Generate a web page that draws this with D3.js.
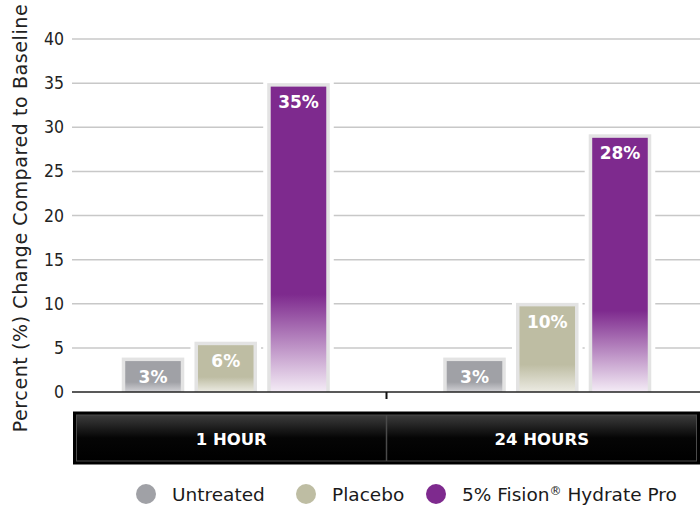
<!DOCTYPE html>
<html>
<head>
<meta charset="utf-8">
<script src="https://cdn.jsdelivr.net/npm/d3@7"></script>
<style>
  body { margin: 0; background: #fff; }
  svg { display: block; font-family: "DejaVu Sans", sans-serif; }
</style>
</head>
<body>
<svg id="chart" width="700" height="506"></svg>
<script>
// chart data
const groups = ["1 HOUR", "24 HOURS"];
const series = ["Untreated", "Placebo", "5% Fision® Hydrate Pro"];
const heights = [
  [3.9, 5.7, 35],
  [3.9, 10.1, 29.2]
];
const labels = [
  ["3%", "6%", "35%"],
  ["3%", "10%", "28%"]
];
const yTicks = [0, 5, 10, 15, 20, 25, 30, 35, 40];

const colors = ["#a0a1a6", "#bebda3", "#7e2a8e"];
const fades = ["#d2d2d6", "#ecebe3", "#f4ecf6"];

const svg = d3.select("#chart");
const defs = svg.append("defs");

const x = d3.scaleBand().domain(groups).range([65, 708]);
const xs = d3.scaleBand().domain(series).range([0, x.bandwidth()])
  .paddingInner(0.14).paddingOuter(0.78);
const y = d3.scaleLinear().domain([0, 40]).range([392, 39]);

// gradients for bars
colors.forEach((c, i) => {
  const g = defs.append("linearGradient")
    .attr("id", "bar" + i)
    .attr("x1", 0).attr("y1", 0).attr("x2", 0).attr("y2", 1);
  g.append("stop").attr("offset", "0").attr("stop-color", c);
  g.append("stop").attr("offset", "0.68").attr("stop-color", c);
  g.append("stop").attr("offset", "1").attr("stop-color", fades[i]);
});

const band = defs.append("linearGradient")
  .attr("id", "band").attr("x1", 0).attr("y1", 0).attr("x2", 0).attr("y2", 1);
band.append("stop").attr("offset", "0").attr("stop-color", "#3c3c3c");
band.append("stop").attr("offset", "0.5").attr("stop-color", "#050505");
band.append("stop").attr("offset", "1").attr("stop-color", "#000");

// gridlines
svg.append("g").selectAll("line")
  .data(yTicks.filter(d => d > 0))
  .join("line")
  .attr("x1", 72).attr("x2", 700)
  .attr("y1", d => y(d)).attr("y2", d => y(d))
  .attr("stroke", "#c8c8c8")
  .attr("stroke-width", 1.5);

// y tick labels
const yAxis = svg.append("g")
  .attr("transform", "translate(64,0)")
  .call(d3.axisLeft(y).tickValues(yTicks).tickSize(0).tickPadding(0));
yAxis.select(".domain").remove();
yAxis.selectAll("text")
  .style("font-family", "'DejaVu Sans Condensed', 'DejaVu Sans', sans-serif")
  .style("font-size", "17.5px")
  .attr("fill", "#222");

// y title
svg.append("text")
  .attr("transform", "translate(27,218) rotate(-90)")
  .attr("text-anchor", "middle")
  .style("font-size", "19px")
  .style("letter-spacing", "0.6px")
  .attr("fill", "#222")
  .text("Percent (%) Change Compared to Baseline");

// bars
const barData = groups.flatMap((g, gi) => series.map((s, si) => ({
  group: g, series: s, si, value: heights[gi][si], label: labels[gi][si]
})));

const bars = svg.append("g").selectAll("g")
  .data(barData)
  .join("g")
  .attr("transform", d => `translate(${x(d.group) + xs(d.series)},0)`);

const bw = xs.bandwidth();

bars.append("rect")
  .attr("x", -4).attr("width", bw + 8)
  .attr("y", d => y(d.value) - 4)
  .attr("height", d => y(0) - y(d.value) + 4)
  .attr("fill", "#fff");

bars.append("rect")
  .attr("x", 0).attr("width", bw)
  .attr("y", d => y(d.value))
  .attr("height", d => y(0) - y(d.value))
  .attr("fill", "#e3e3e3");

bars.append("rect")
  .attr("x", 3.5).attr("width", bw - 7)
  .attr("y", d => y(d.value) + 3.5)
  .attr("height", d => y(0) - y(d.value) - 3.5)
  .attr("fill", d => `url(#bar${d.si})`);

bars.append("text")
  .attr("x", bw / 2)
  .attr("y", d => y(d.value) + 25)
  .attr("text-anchor", "middle")
  .style("font-size", "17px")
  .style("font-weight", "bold")
  .attr("fill", "#fff")
  .text(d => d.label);

// baseline and center tick
svg.append("line")
  .attr("x1", 72).attr("x2", 700)
  .attr("y1", y(0)).attr("y2", y(0))
  .attr("stroke", "#222").attr("stroke-width", 1.5);

svg.append("line")
  .attr("x1", x("24 HOURS")).attr("x2", x("24 HOURS"))
  .attr("y1", y(0)).attr("y2", y(0) + 7)
  .attr("stroke", "#111").attr("stroke-width", 2);

// category band
const bandTop = 411.5, bandH = 53;
svg.append("rect")
  .attr("x", 73).attr("y", bandTop)
  .attr("width", 627).attr("height", bandH)
  .attr("fill", "#000");
svg.append("rect")
  .attr("x", 76.5).attr("y", bandTop + 3.5)
  .attr("width", 620).attr("height", bandH - 7)
  .attr("fill", "url(#band)")
  .attr("stroke", "#4a4a4a").attr("stroke-width", 1);
svg.append("line")
  .attr("x1", x("24 HOURS")).attr("x2", x("24 HOURS"))
  .attr("y1", bandTop + 3.5).attr("y2", bandTop + bandH - 3.5)
  .attr("stroke", "#4a4a4a").attr("stroke-width", 1.5);

svg.append("g").selectAll("text")
  .data(groups)
  .join("text")
  .attr("x", (d, i) => i === 0 ? (76 + x("24 HOURS")) / 2 : (x("24 HOURS") + 697) / 2)
  .attr("y", bandTop + bandH / 2 + 6.5)
  .attr("text-anchor", "middle")
  .style("font-size", "16.5px")
  .style("font-weight", "bold")
  .attr("fill", "#fff")
  .text(d => d);

// legend
const legendX = [146, 306, 436];
const legend = svg.append("g").selectAll("g")
  .data(series)
  .join("g")
  .attr("transform", (d, i) => `translate(${legendX[i]},494)`);

legend.append("circle")
  .attr("r", 10)
  .attr("fill", (d, i) => colors[i]);

legend.append("text")
  .attr("x", 26)
  .attr("y", 6.5)
  .style("font-size", "18.5px")
  .attr("fill", "#1a1a1a")
  .each(function(d) {
    const t = d3.select(this);
    if (d.includes("®")) {
      const parts = d.split("®");
      t.append("tspan").text(parts[0]);
      t.append("tspan").attr("dy", -6).style("font-size", "12px").text("®");
      t.append("tspan").attr("dy", 6).text(parts[1]);
    } else {
      t.text(d);
    }
  });
</script>
</body>
</html>
